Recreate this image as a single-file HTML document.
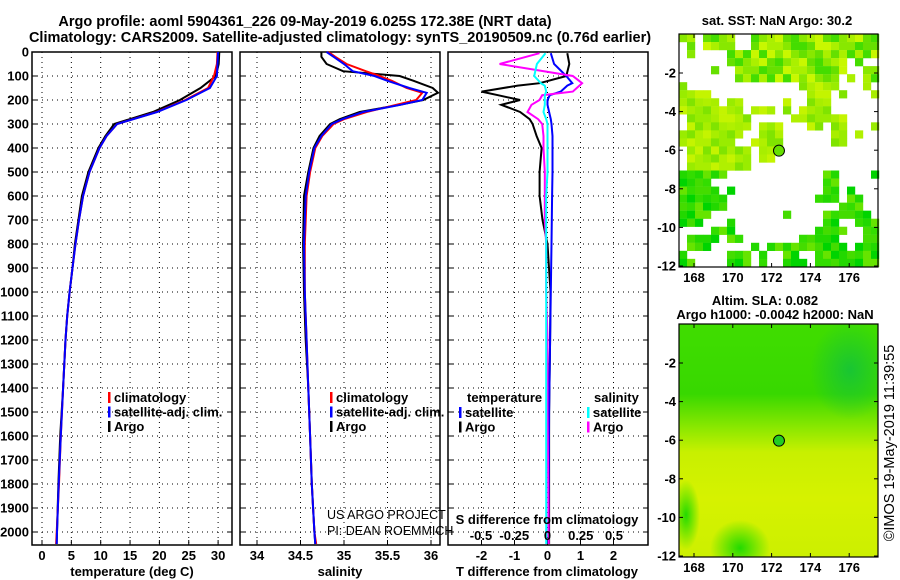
<!DOCTYPE html>
<html><head><meta charset="utf-8"><style>
html,body{margin:0;padding:0;background:#fff;}
svg{display:block;font-family:"Liberation Sans",Arial,sans-serif;}
.b{font-weight:bold;font-size:13px;}
</style></head><body>
<svg id="c" width="900" height="580" viewBox="0 0 900 580">
<defs>
<linearGradient id="slag" x1="0" y1="0" x2="0" y2="1">
<stop offset="0" stop-color="#40dd00"/><stop offset="0.3" stop-color="#38d800"/>
<stop offset="0.45" stop-color="#8ee800"/><stop offset="0.55" stop-color="#c8f000"/>
<stop offset="0.75" stop-color="#d6f200"/><stop offset="1" stop-color="#ccf000"/>
</linearGradient>
<radialGradient id="dk" cx="0.5" cy="0.5" r="0.5"><stop offset="0" stop-color="#10c040" stop-opacity="0.8"/><stop offset="1" stop-color="#10c040" stop-opacity="0"/></radialGradient>
<radialGradient id="gp" cx="0.5" cy="0.5" r="0.5"><stop offset="0" stop-color="#10d800" stop-opacity="0.9"/><stop offset="1" stop-color="#10d800" stop-opacity="0"/></radialGradient>
<clipPath id="clip2"><rect x="679" y="324" width="199" height="233"/></clipPath>
</defs>
<text class="b" x="305" y="26" text-anchor="middle" style="font-size:14.5px">Argo profile: aoml 5904361_226 09-May-2019 6.025S 172.38E (NRT data)</text>
<text class="b" x="340" y="42" text-anchor="middle" style="font-size:14.5px">Climatology: CARS2009. Satellite-adjusted climatology: synTS_20190509.nc (0.76d earlier)</text>
<g id="plots"></g>
</svg>
<script>
// ---- data ----
const tempDepth=[0,50,100,150,200,250,300,350,400,500,600,700,800,900,1000,1100,1200,1400,1600,1800,2000,2050];
const tempArgo=[30.2,30.1,29.6,27.0,23.5,18.9,12.3,10.8,9.6,7.9,6.8,6.2,5.6,5.2,4.7,4.3,4.0,3.6,3.1,2.8,2.55,2.5];
const tempClim=[29.9,29.8,29.3,28.3,24.4,19.5,12.8,11.0,9.8,8.1,7.0,6.3,5.7,5.2,4.7,4.3,4.0,3.6,3.2,2.9,2.5,2.4];
const tempSat=[30.0,29.9,29.8,28.6,24.6,19.6,12.8,11.0,9.8,8.1,7.0,6.3,5.7,5.2,4.7,4.3,4.0,3.6,3.2,2.85,2.55,2.5];
const salDepth=[0,20,50,80,100,120,150,170,200,220,250,280,300,350,400,500,600,800,1000,1200,1400,1600,1800,2000,2050];
const salArgo=[34.74,34.74,34.80,34.99,35.64,35.80,36.02,36.08,35.91,35.64,35.18,34.95,34.84,34.72,34.65,34.59,34.54,34.53,34.54,34.56,34.59,34.61,34.63,34.66,34.67];
const salClim=[34.82,34.9,35.03,35.25,35.41,35.55,35.72,35.9,35.83,35.6,35.26,35.0,34.88,34.75,34.67,34.61,34.57,34.55,34.55,34.57,34.59,34.61,34.63,34.66,34.68];
const salSat=[34.80,34.88,35.0,35.1,35.35,35.5,35.75,35.95,35.9,35.65,35.22,34.98,34.86,34.74,34.66,34.60,34.56,34.54,34.55,34.57,34.59,34.61,34.63,34.66,34.67];
const diffDepth=[5,50,100,130,140,165,180,200,220,250,280,300,350,400,500,600,700,800,1000,1200,1500,2050];
const dTArgo=[0.6,0.66,0.57,-0.24,-0.9,-2.0,-1.5,-0.83,-1.4,-0.83,-0.54,-0.45,-0.33,-0.18,-0.24,-0.24,-0.15,0,0.09,0.08,0.05,0.05];
const dTSat=[0.1,0.2,0.57,0.75,0.6,0.4,0.07,0,0,0.05,0.1,0.12,0.15,0.15,0.15,0.14,0.13,0.12,0.1,0.08,0.05,0.03];
const dSArgo=[-0.06,-0.36,0.19,0.26,0.24,0.19,-0.04,-0.06,-0.12,-0.15,-0.07,-0.04,-0.03,-0.03,-0.02,-0.02,-0.02,-0.01,-0.01,0,0,0.01];
const dSSat=[-0.015,-0.08,-0.1,-0.05,-0.02,-0.01,-0.02,-0.02,-0.02,-0.03,-0.01,0,0,0,0,-0.01,-0.01,-0.01,-0.01,-0.01,-0.01,-0.01];
const depthTicks=[0,100,200,300,400,500,600,700,800,900,1000,1100,1200,1300,1400,1500,1600,1700,1800,1900,2000];
const tempTicks=[0,5,10,15,20,25,30];
const salTicks=[34,34.5,35,35.5,36];
const salTickLabels=["34","34.5","35","35.5","36"];
const dTTicks=[-2,-1,0,1,2];
const dSTicks=[-0.5,-0.25,0,0.25,0.5];
const lonTicks=[168,170,172,174,176];
const latTicks=[-2,-4,-6,-8,-10,-12];
const argoLon=172.38, argoLat=-6.025;

const NS='http://www.w3.org/2000/svg';
const root=document.getElementById('plots');
function el(tag,attrs,parent,txt){const e=document.createElementNS(NS,tag);for(const k in attrs)e.setAttribute(k,attrs[k]);if(txt!==undefined)e.textContent=txt;(parent||root).appendChild(e);return e;}
const Y=d=>52+d*0.24;
const PT=545;
function panel(name){
  const g=el('g',{});
  
  
  return g;
}
function grid(g,x0,x1,xs){
  depthTicks.forEach(d=>{const y=Y(d);if(d>0){const l=el('line',{x1:x0,x2:x1,y1:y,y2:y,stroke:'#000','stroke-dasharray':'1 4','stroke-width':1},g);}
    el('line',{x1:x0,x2:x0+5,y1:y,y2:y,stroke:'#000'},g);el('line',{x1:x1-5,x2:x1,y1:y,y2:y,stroke:'#000'},g);});
  xs.forEach(x=>{const l=el('line',{x1:x,x2:x,y1:52,y2:PT,stroke:'#000','stroke-dasharray':'1 4'},g);
    el('line',{x1:x,x2:x,y1:PT-5,y2:PT,stroke:'#000'},g);});
  const r=el('rect',{x:x0,y:52,width:x1-x0,height:PT-52,fill:'none',stroke:'#000','stroke-width':1.5},g);
  
}
function line(g,xs,ds,fx,col,name){
  const pts=xs.map((v,i)=>fx(v).toFixed(1)+','+Y(ds[i]).toFixed(1)).join(' ');
  const p=el('polyline',{points:pts,fill:'none',stroke:col,'stroke-width':2},g);
  
  
}
function txt(g,x,y,s,name,anchor,cls){const t=el('text',{x:x,y:y,'text-anchor':anchor||'start',class:cls===undefined?'b':cls},g,s);return t;}
function legend(g,x,y,items){items.forEach((it,i)=>{const yy=y+i*14.5;el('rect',{x:x,y:yy-10,width:2.5,height:11,fill:it[0]},g);txt(g,x+6,yy,it[1],'legend-entry');});}

// depth labels
const yl=panel('depth-axis');
depthTicks.forEach(d=>txt(yl,29,Y(d)+4.5,String(d),'depth-tick-label','end'));

// panel 1 temperature
const p1=panel('temperature-panel');
const fT=v=>42+v*5.87;
grid(p1,32,232,tempTicks.map(fT));
line(p1,tempArgo,tempDepth,fT,'#000','argo-temperature-line');
line(p1,tempClim,tempDepth,fT,'#f00','climatology-temperature-line');
line(p1,tempSat,tempDepth,fT,'#00f','satellite-temperature-line');
tempTicks.forEach(v=>txt(p1,fT(v),560,String(v),'temperature-tick-label','middle'));
txt(p1,132,576,'temperature (deg C)','x-axis-title','middle');
legend(p1,108,402,[['#f00','climatology'],['#00f','satellite-adj. clim.'],['#000','Argo']]);

// panel 2 salinity
const p2=panel('salinity-panel');
const fS=v=>257+(v-34)*87;
grid(p2,240,440,salTicks.map(fS));
line(p2,salArgo,salDepth,fS,'#000','argo-salinity-line');
line(p2,salClim,salDepth,fS,'#f00','climatology-salinity-line');
line(p2,salSat,salDepth,fS,'#00f','satellite-salinity-line');
salTicks.forEach((v,i)=>txt(p2,fS(v),560,salTickLabels[i],'salinity-tick-label','middle'));
txt(p2,340,576,'salinity','x-axis-title','middle');
legend(p2,330,402,[['#f00','climatology'],['#00f','satellite-adj. clim.'],['#000','Argo']]);
const c1=txt(p2,327,519,'US ARGO PROJECT','credit-project','start','');c1.setAttribute('style','font-size:12.5px');
const c2=txt(p2,327,535,'PI: DEAN ROEMMICH','credit-pi','start','');c2.setAttribute('style','font-size:12.5px');

// panel 3 differences
const p3=panel('difference-panel');
const fdT=v=>547.5+v*33;
const fdS=v=>547.5+v*133;
grid(p3,448,648,dTTicks.map(fdT));
line(p3,dTArgo,diffDepth,fdT,'#000','argo-temperature-difference-line');
line(p3,dTSat,diffDepth,fdT,'#00f','satellite-temperature-difference-line');
line(p3,dSArgo,diffDepth,fdS,'#f0f','argo-salinity-difference-line');
line(p3,dSSat,diffDepth,fdS,'#0ff','satellite-salinity-difference-line');
dTTicks.forEach(v=>txt(p3,fdT(v),560,String(v),'t-difference-tick-label','middle'));
dSTicks.forEach(v=>txt(p3,fdS(v),540,String(v),'s-difference-tick-label','middle'));
txt(p3,547,524,'S difference from climatology','s-difference-title','middle');
txt(p3,547,576,'T difference from climatology','x-axis-title','middle');
txt(p3,467,402,'temperature','legend-heading');
txt(p3,594,402,'salinity','legend-heading');
legend(p3,459,417,[['#00f','satellite'],['#000','Argo']]);
legend(p3,587,417,[['#0ff','satellite'],['#f0f','Argo']]);

// maps
const MX0=679,MX1=878;
const mlon=v=>694+(v-168)*19.4;
function mapAxes(g,top,bot,latY){
  el('rect',{x:MX0,y:top,width:MX1-MX0,height:bot-top,fill:'none',stroke:'#000','stroke-width':1.2},g);
  latTicks.forEach(v=>{const y=latY(v);el('line',{x1:MX0,x2:MX0+4,y1:y,y2:y,stroke:'#000'},g);el('line',{x1:MX1-4,x2:MX1,y1:y,y2:y,stroke:'#000'},g);txt(g,676,y+4.5,String(v),'latitude-tick-label','end');});
  lonTicks.forEach(v=>{const x=mlon(v);el('line',{x1:x,x2:x,y1:bot-4,y2:bot,stroke:'#000'},g);el('line',{x1:x,x2:x,y1:top,y2:top+4,stroke:'#000'},g);txt(g,x,bot+15,String(v),'longitude-tick-label','middle');});
}
// top SST map
const m1=panel('sst-map');
const mask=[
"0,1,3-6,9-24","1,3-6,9-24","1,6-24","6-20,22","4,7-20,23,24","7-19,21,23,24","0,15-19,23","0-3,16-18,20,24","0-4,6,7,13,16-18","0-7,9-11,13,15-18",
"1-8,14-20","1-8,10-12,16,17,19,20,24","0-7,10-12,19,20,22","0-6,9-12,19,20","1-8,10,11","1-8,10,11","1-8","0-5,18,19,24","0-3,18,19","0-4,6,18,19,21",
"0-5,17-19,21,22","0-5,20-22","0-3,13,18-23","0-2,6,18,19,22-24","4-6,17-20,23,24","1-4,6,7,15-19,23,24","1-3,9,11-20,22-24","0,6-8,10,13,14,17-24","0,1,6-8,10,13-15,17-24"];
const palTop=['#88e800','#66e000','#aaf000','#44dd00','#c8f800'];
const palMid=['#b0f000','#99ec00','#c4f400','#80e400','#a8ee00'];
const palBot=['#33dd00','#22d800','#66e400','#44dc00','#00d400'];
mask.forEach((row,r)=>{row.split(',').forEach(seg=>{const [a,b]=seg.split('-').map(Number);for(let c=a;c<=(b===undefined?a:b);c++){
  const pal=r<6?palTop:(r<17?palMid:palBot);const col=pal[(r*3+c*2+((r*c)%3))%5];
  el('rect',{x:MX0+c*8,y:34+r*8.03,width:8.2,height:8.2,fill:col},m1);}});});
mapAxes(m1,34,267,v=>73+(-2-v)*19.3);
el('circle',{cx:mlon(argoLon),cy:73+(-2-argoLat)*19.3,r:5.5,fill:'#66e000',stroke:'#000'},m1);
txt(m1,777,25,'sat. SST: NaN Argo: 30.2','sst-map-title','middle');

// bottom SLA map
const m2=panel('sla-map');
const fillG=el('g',{'clip-path':'url(#clip2)'},m2);
el('rect',{x:MX0,y:324,width:MX1-MX0,height:233,fill:'url(#slag)'},fillG);
el('ellipse',{cx:850,cy:370,rx:40,ry:50,fill:'url(#dk)'},fillG);
el('ellipse',{cx:740,cy:548,rx:30,ry:28,fill:'url(#gp)'},fillG);
el('ellipse',{cx:686,cy:515,rx:14,ry:35,fill:'url(#gp)'},fillG);
mapAxes(m2,324,557,v=>363+(-2-v)*19.3);
el('circle',{cx:mlon(argoLon),cy:363+(-2-argoLat)*19.3,r:5.5,fill:'#22cc22',stroke:'#000'},m2);
txt(m2,765,305,'Altim. SLA: 0.082','sla-map-title','middle');
txt(m2,775,319,'Argo h1000: -0.0042 h2000: NaN','sla-map-subtitle','middle');
const stamp=txt(m2,0,0,'©IMOS 19-May-2019 11:39:55','timestamp','middle','');
stamp.setAttribute('style','font-size:14.5px');
stamp.setAttribute('transform','translate(894,443) rotate(-90)');
</script>
</body></html>
